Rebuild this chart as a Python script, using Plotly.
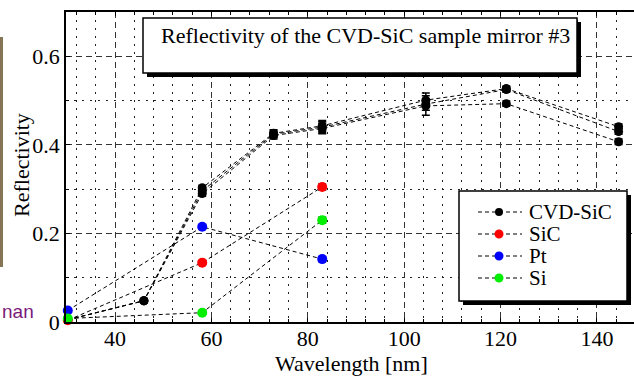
import plotly.graph_objects as go

# ---------------- data ----------------
wavelength_cvd = [30.2, 46.0, 58.1, 72.9, 83.0, 104.5, 121.2, 144.5]
cvd_run1 = [0.005, 0.048, 0.303, 0.426, 0.443, 0.501, 0.527, 0.441]
cvd_run1_err = [0.004, 0.004, 0.006, 0.008, 0.012, 0.010, 0.006, 0.006]
cvd_run2 = [0.005, 0.048, 0.296, 0.424, 0.440, 0.492, 0.525, 0.430]
cvd_run2_err = [0.004, 0.004, 0.006, 0.008, 0.012, 0.025, 0.006, 0.006]
cvd_run3 = [0.005, 0.048, 0.290, 0.421, 0.437, 0.488, 0.493, 0.407]
cvd_run3_err = [0.004, 0.004, 0.006, 0.008, 0.012, 0.010, 0.006, 0.006]

wavelength_ref = [30.2, 58.1, 83.0]
sic = [0.004, 0.134, 0.305]
sic_err = [0.003, 0.004, 0.007]
pt = [0.026, 0.215, 0.142]
pt_err = [0.003, 0.004, 0.006]
si = [0.008, 0.021, 0.230]
si_err = [0.003, 0.004, 0.007]

legend_names = ["CVD-SiC", "SiC", "Pt", "Si"]
legend_colors = ["black", "#ff0000", "#0000ff", "#00ee00"]

title_text = "Reflectivity of the CVD-SiC sample mirror #3"
x_title = "Wavelength [nm]"
y_title = "Reflectivity"

SERIF = "Liberation Serif"

# plot area in pixels
L, R, T, B = 66, 634, 12, 322
W, H = R - L, B - T


def px(p):
    return (p - L) / W


def py(p):
    return (B - p) / H


fig = go.Figure()

line_style = dict(color="black", width=1, dash="4px,3px")

for yv, err in [(cvd_run1, cvd_run1_err), (cvd_run2, cvd_run2_err), (cvd_run3, cvd_run3_err)]:
    fig.add_trace(go.Scatter(
        x=wavelength_cvd, y=yv, mode="lines+markers", name="CVD-SiC", showlegend=False,
        line=line_style, marker=dict(color="black", size=9),
        error_y=dict(type="data", array=err, color="black", thickness=1.5, width=4),
        cliponaxis=False))

for yv, err, col, nm in [(sic, sic_err, legend_colors[1], "SiC"),
                         (pt, pt_err, legend_colors[2], "Pt"),
                         (si, si_err, legend_colors[3], "Si")]:
    fig.add_trace(go.Scatter(
        x=wavelength_ref, y=yv, mode="lines+markers", name=nm, showlegend=False,
        line=line_style, marker=dict(color=col, size=10),
        error_y=dict(type="data", array=err, color="black", thickness=1.2, width=4),
        cliponaxis=False))

shapes = []
annotations = []

# title box with shadow
bx0, by0, bx1, by1 = 143, 18, 577, 73
shapes.append(dict(type="rect", xref="paper", yref="paper", x0=px(bx0 + 4), x1=px(bx1 + 4),
                   y0=py(by1 + 4), y1=py(by0 + 4), fillcolor="black", line=dict(width=0), layer="above"))
shapes.append(dict(type="rect", xref="paper", yref="paper", x0=px(bx0), x1=px(bx1),
                   y0=py(by1), y1=py(by0), fillcolor="white", line=dict(color="black", width=1.5), layer="above"))
annotations.append(dict(text=title_text, xref="paper", yref="paper", x=px(365), y=py(36),
                        xanchor="center", yanchor="middle", showarrow=False,
                        font=dict(family=SERIF, size=22, color="black")))

# legend box with shadow
lx0, ly0, lx1, ly1 = 459, 191, 627, 301
shapes.append(dict(type="rect", xref="paper", yref="paper", x0=px(lx0 + 4), x1=px(lx1 + 4),
                   y0=py(ly1 + 4), y1=py(ly0 + 4), fillcolor="black", line=dict(width=0), layer="above"))
shapes.append(dict(type="rect", xref="paper", yref="paper", x0=px(lx0), x1=px(lx1),
                   y0=py(ly1), y1=py(ly0), fillcolor="white", line=dict(color="black", width=1.5), layer="above"))
row_y = [212, 234, 256, 278]
for i, (nm, col) in enumerate(zip(legend_names, legend_colors)):
    yy = row_y[i]
    shapes.append(dict(type="line", xref="paper", yref="paper", x0=px(478), x1=px(522),
                       y0=py(yy), y1=py(yy), line=dict(color="black", width=1, dash="4px,3px"), layer="above"))
    r = 4 if i == 0 else 4.5
    shapes.append(dict(type="circle", xref="paper", yref="paper", x0=px(499 - r), x1=px(499 + r),
                       y0=py(yy + r), y1=py(yy - r), fillcolor=col, line=dict(width=0), layer="above"))
    annotations.append(dict(text=nm, xref="paper", yref="paper", x=px(527), y=py(yy),
                            xanchor="left", yanchor="middle", showarrow=False,
                            font=dict(family=SERIF, size=21, color="black")))

# axis titles
annotations.append(dict(text=x_title, xref="paper", yref="paper", x=px(351), y=py(363),
                        xanchor="center", yanchor="middle", showarrow=False,
                        font=dict(family=SERIF, size=22, color="black")))
annotations.append(dict(text=y_title, xref="paper", yref="paper", x=px(21), y=py(165),
                        xanchor="center", yanchor="middle", showarrow=False, textangle=-90,
                        font=dict(family=SERIF, size=22, color="black")))

# left-edge remnants of a neighbouring image
shapes.append(dict(type="rect", xref="paper", yref="paper", x0=px(0), x1=px(3),
                   y0=py(267), y1=py(37), fillcolor="#857556", line=dict(width=0), layer="above"))
annotations.append(dict(text="nan", xref="paper", yref="paper", x=px(0), y=py(311),
                        xanchor="left", yanchor="middle", showarrow=False,
                        font=dict(family="Liberation Sans", size=19, color="#7a1a7a")))

axis_common = dict(
    showline=True, linecolor="black", linewidth=1.5,
    ticks="inside", ticklen=4, tickcolor="black",
    tickfont=dict(family=SERIF, size=22, color="black"),
    showgrid=True, gridcolor="#333333", gridwidth=1, griddash="6px,4px",
    zeroline=False, automargin=False,
)

fig.update_xaxes(
    **axis_common, range=[29.83, 147.7], tickmode="linear", tick0=0, dtick=20,
    mirror="ticks", ticklabelstandoff=-4,
    minor=dict(tickmode="linear", tick0=0, dtick=4, ticks="inside", ticklen=3, tickcolor="black",
               showgrid=True, gridcolor="#222222", gridwidth=1, griddash="2px,6px"),
)
fig.update_yaxes(
    **axis_common, range=[0, 0.70], tickmode="linear", tick0=0, dtick=0.2,
    mirror=False,
    minor=dict(tickmode="linear", tick0=0, dtick=0.1, ticks="inside", ticklen=3, tickcolor="black",
               showgrid=True, gridcolor="#222222", gridwidth=1, griddash="2px,6px"),
)

fig.update_layout(
    width=634, height=379,
    margin=dict(l=L, r=634 - R, t=T, b=379 - B),
    paper_bgcolor="white", plot_bgcolor="white",
    font=dict(family=SERIF, size=22, color="black"),
    showlegend=False,
    shapes=shapes, annotations=annotations,
)

fig.write_html(
    "out.html",
    config={"displayModeBar": False},
    post_script="document.body.style.margin='0';document.body.style.overflow='hidden';",
)
